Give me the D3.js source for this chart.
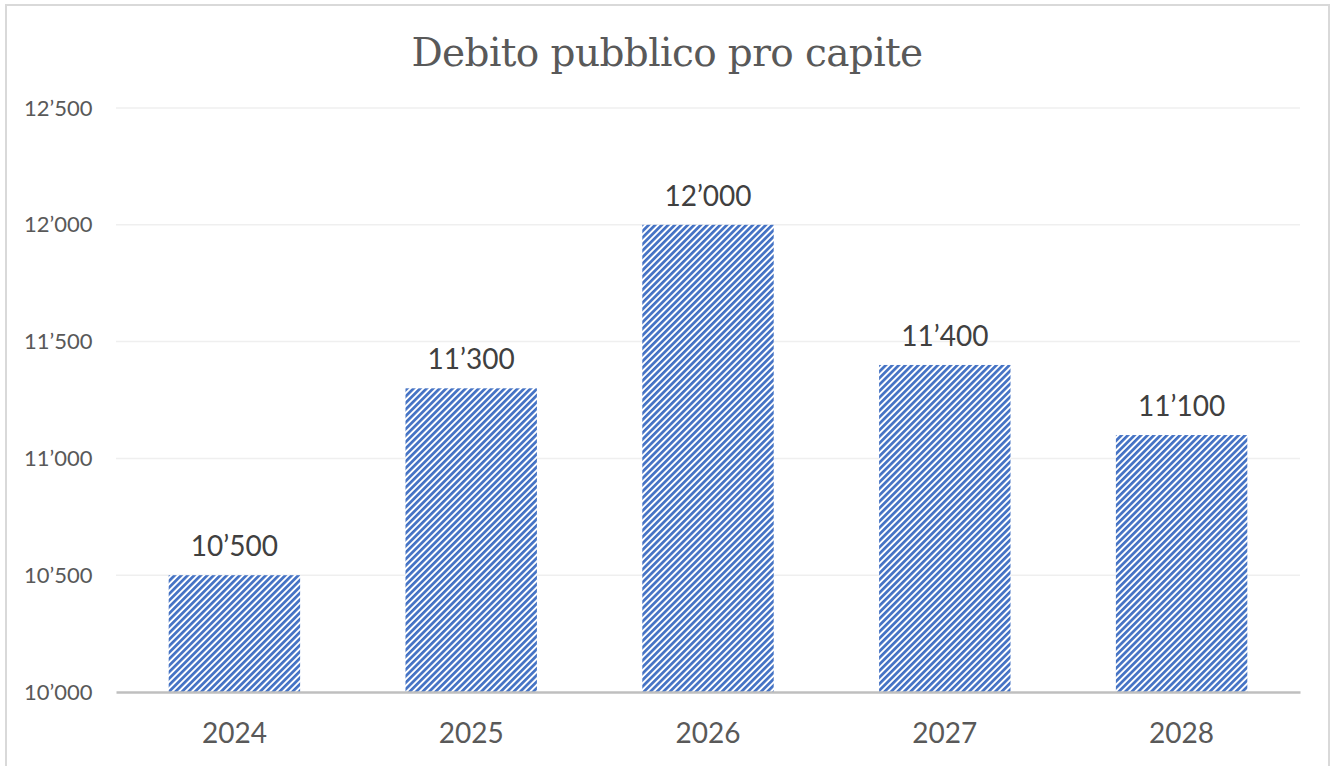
<!DOCTYPE html>
<html>
<head>
<meta charset="utf-8">
<script src="https://cdn.jsdelivr.net/npm/d3@7"></script>
<style>
  html, body { margin: 0; padding: 0; background: #fff; }
  svg { display: block; }
</style>
</head>
<body>
<svg id="chart" width="1331" height="766"></svg>
<script>
// Data
const years = ["2024", "2025", "2026", "2027", "2028"];
const debtPerCapita = [10500, 11300, 12000, 11400, 11100];
const yTicks = [10000, 10500, 11000, 11500, 12000, 12500];
const chartTitle = "Debito pubblico pro capite";

// Thousands separator with a typographic apostrophe
const fmt = v => d3.format(",")(v).replace(/,/g, "\u2019");

const svg = d3.select("#chart");
const W = 1331, H = 766;
const margin = { left: 116, right: 31, top: 108, bottom: 74 };
const sans = "Lato, 'Open Sans', sans-serif";

// Outer frame
svg.append("rect")
  .attr("x", 6).attr("y", 5)
  .attr("width", 1323).attr("height", 790)
  .attr("fill", "#fff")
  .attr("stroke", "#d9d9d9").attr("stroke-width", 2);

// Diagonal hatch fill
const defs = svg.append("defs");
const pat = defs.append("pattern")
  .attr("id", "hatch")
  .attr("patternUnits", "userSpaceOnUse")
  .attr("width", 4.6).attr("height", 4.6)
  .attr("patternTransform", "rotate(45)");
pat.append("rect").attr("width", 4.6).attr("height", 4.6).attr("fill", "#ffffff");
pat.append("rect").attr("x", 0).attr("y", 0).attr("width", 2.7).attr("height", 4.6).attr("fill", "#4472c4");

const x = d3.scaleBand()
  .domain(years)
  .range([margin.left, W - margin.right])
  .paddingInner(0.445)
  .paddingOuter(0.2225);

const y = d3.scaleLinear()
  .domain([10000, 12500])
  .range([H - margin.bottom, margin.top]);

// Gridlines
svg.append("g")
  .selectAll("line")
  .data(yTicks.filter(t => t !== 10000))
  .join("line")
  .attr("x1", margin.left).attr("x2", W - margin.right)
  .attr("y1", d => y(d)).attr("y2", d => y(d))
  .attr("stroke", "#efefef").attr("stroke-width", 1.5);

// Y axis labels
const yAxis = d3.axisLeft(y).tickValues(yTicks).tickFormat(fmt).tickSize(0).tickPadding(0);
const gy = svg.append("g")
  .attr("transform", `translate(24,0)`)
  .call(yAxis);
gy.select(".domain").remove();
gy.selectAll("text")
  .attr("text-anchor", "start")
  .attr("x", 0)
  .attr("font-family", sans)
  .attr("font-size", 22)
  .attr("fill", "#595959");

// Bars
svg.append("g")
  .selectAll("rect")
  .data(years.map((yr, i) => ({ yr, v: debtPerCapita[i] })))
  .join("rect")
  .attr("x", d => x(d.yr))
  .attr("width", x.bandwidth())
  .attr("y", d => y(d.v))
  .attr("height", d => y(10000) - y(d.v))
  .attr("fill", "url(#hatch)");

// Data labels
svg.append("g")
  .selectAll("text")
  .data(years.map((yr, i) => ({ yr, v: debtPerCapita[i] })))
  .join("text")
  .attr("x", d => x(d.yr) + x.bandwidth() / 2)
  .attr("y", d => y(d.v) - 19)
  .attr("text-anchor", "middle")
  .attr("font-family", sans)
  .attr("font-size", 28)
  .attr("fill", "#404040")
  .text(d => fmt(d.v));

// X axis
const xAxis = d3.axisBottom(x).tickSize(0).tickPadding(0);
const gx = svg.append("g")
  .attr("transform", `translate(0,${y(10000)})`)
  .call(xAxis);
gx.select(".domain")
  .attr("stroke", "#bfbfbf").attr("stroke-width", 2.5);
gx.selectAll("text")
  .attr("y", 51)
  .attr("dy", 0)
  .attr("font-family", sans)
  .attr("font-size", 28)
  .attr("fill", "#595959");

// Title
svg.append("text")
  .attr("x", 667).attr("y", 66)
  .attr("text-anchor", "middle")
  .attr("font-family", "'DejaVu Serif', serif")
  .attr("font-size", 39)
  .attr("letter-spacing", -0.6)
  .attr("fill", "#595959")
  .text(chartTitle);
</script>
</body>
</html>
